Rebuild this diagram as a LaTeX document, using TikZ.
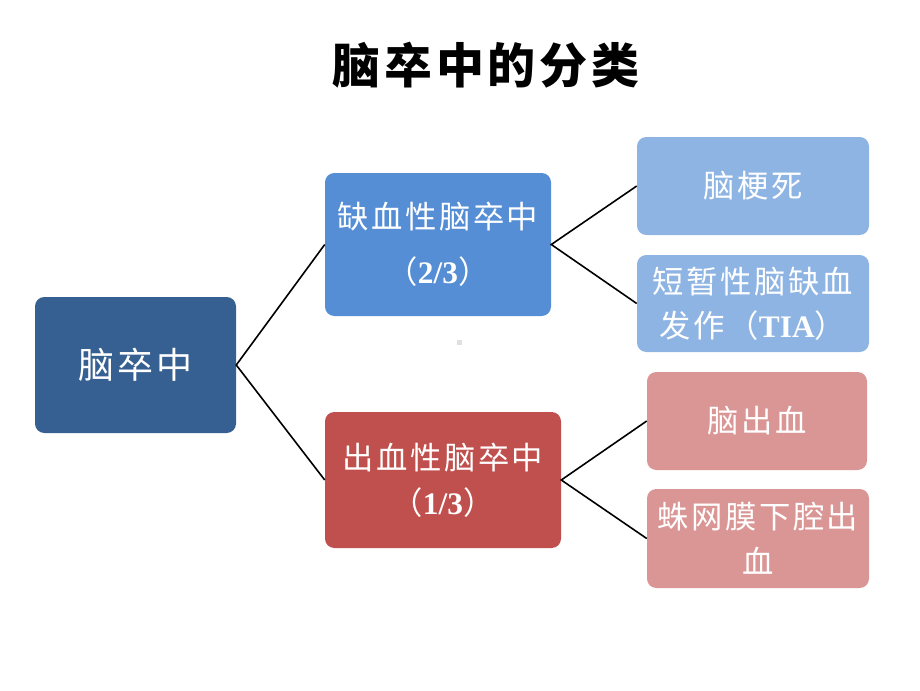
\documentclass[tikz,border=0pt]{standalone}
\usepackage{fontspec}
\usepackage{tikz}
\usetikzlibrary{positioning}
\newfontfamily\cjk[LetterSpace=8]{Noto Sans CJK SC}
\newfontfamily\cjkhead[LetterSpace=8]{Noto Sans CJK SC}
\newfontfamily\latin{Liberation Serif}
\definecolor{rootblue}{HTML}{376092}
\definecolor{midblue}{HTML}{558ED5}
\definecolor{midred}{HTML}{C0504D}
\definecolor{leafblue}{HTML}{8EB4E3}
\definecolor{leafred}{HTML}{D99694}

\begin{document}
\begin{tikzpicture}[x=0.75pt,y=-0.75pt,
    box/.style={rounded corners=7pt,inner sep=0pt,align=center,text=white,
        font=\cjk\fontsize{23.5}{41}\selectfont},
    link/.style={draw=black,line width=1.2pt}]
            \useasboundingbox (0,0) rectangle (920,690);
            \node [font=\cjkhead\bfseries\fontsize{36}{40}\selectfont] (title) at (486,65) {脑卒中的分类};

            % the root
            \node [box,fill=rootblue,minimum width=150.75pt,minimum height=102pt,
                font=\cjk\fontsize{27}{30}\selectfont] (stroke) at (135.5,365) {脑卒中};

            % two kinds
            \node [box,fill=midblue,minimum width=169.5pt,minimum height=107.25pt] (isch) at (438,244.5)
                {缺血性脑卒中\\（{\latin\bfseries 2/3}）};
            \node [box,fill=midred,minimum width=177pt,minimum height=102pt,
                font=\cjk\fontsize{23.5}{34}\selectfont] (hem) at (443,480)
                {出血性脑卒中\\（{\latin\bfseries 1/3}）};

            % leaves
            \node [box,fill=leafblue,minimum width=174pt,minimum height=73.5pt] (infarct) at (753,186) {脑梗死};
            \node [box,fill=leafblue,minimum width=174pt,minimum height=72.75pt,
                font=\cjk\fontsize{23.5}{33}\selectfont] (tia) at (753,303.5)
                {短暂性脑缺血\\发作（{\latin\bfseries TIA}）};
            \node [box,fill=leafred,minimum width=165pt,minimum height=73.5pt] (ich) at (757,421) {脑出血};
            \node [box,fill=leafred,minimum width=166.5pt,minimum height=74.25pt,
                font=\cjk\fontsize{23.5}{34}\selectfont] (sah) at (758,538.5)
                {蛛网膜下腔出\\血};

            \draw [link] (isch.west) -- (stroke.east) -- (hem.west);
            \draw [link] (infarct.west) -- (isch.east) -- (tia.west);
            \draw [link] (ich.west) -- (hem.east) -- (sah.west);

            \fill [black!12] (457,340) rectangle (462,345);
\end{tikzpicture}
\end{document}
